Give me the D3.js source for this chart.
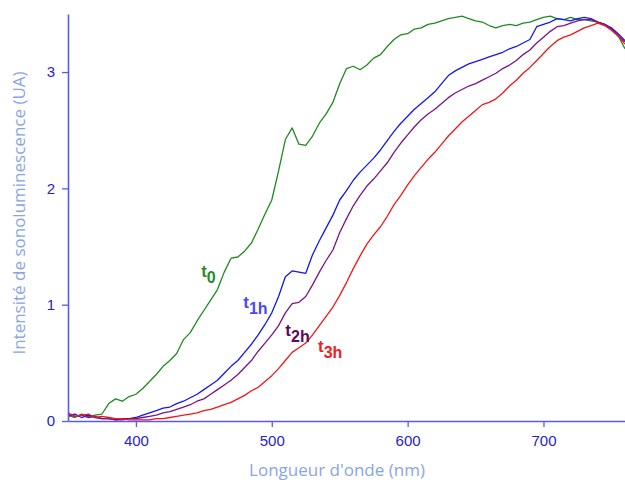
<!DOCTYPE html>
<html><head><meta charset="utf-8">
<script src="https://cdn.jsdelivr.net/npm/d3@7"></script>
<style>body{margin:0;background:#fff}svg{display:block}</style>
</head><body>
<svg id="c" width="625" height="482"></svg>
<script>
const wavelengths = d3.range(350, 761, 5);
const t0 = [0.05,0.03,0.06,0.04,0.05,0.06,0.15,0.19,0.17,0.21,0.23,0.28,0.34,0.40,0.47,0.52,0.58,0.70,0.76,0.86,0.95,1.04,1.13,1.28,1.40,1.41,1.46,1.53,1.65,1.78,1.90,2.15,2.42,2.52,2.38,2.37,2.45,2.56,2.64,2.74,2.90,3.03,3.05,3.02,3.06,3.12,3.15,3.22,3.28,3.32,3.33,3.37,3.38,3.41,3.42,3.44,3.46,3.47,3.48,3.46,3.44,3.43,3.40,3.38,3.40,3.41,3.40,3.42,3.43,3.45,3.47,3.48,3.46,3.45,3.47,3.45,3.45,3.44,3.43,3.41,3.37,3.31,3.20];
const t1h = [0.04,0.06,0.03,0.05,0.03,0.02,0.02,0.01,0.02,0.02,0.03,0.05,0.07,0.09,0.11,0.12,0.15,0.17,0.20,0.23,0.27,0.31,0.35,0.41,0.47,0.52,0.59,0.66,0.74,0.83,0.93,1.07,1.24,1.29,1.28,1.27,1.43,1.55,1.66,1.77,1.90,1.98,2.07,2.14,2.20,2.26,2.33,2.41,2.49,2.56,2.62,2.68,2.73,2.78,2.83,2.90,2.97,3.01,3.04,3.07,3.09,3.11,3.13,3.15,3.17,3.20,3.22,3.25,3.28,3.39,3.41,3.43,3.46,3.45,3.44,3.46,3.47,3.46,3.43,3.41,3.38,3.33,3.27];
const t2h = [0.06,0.04,0.05,0.03,0.04,0.02,0.02,0.01,0.01,0.02,0.02,0.03,0.04,0.05,0.07,0.08,0.10,0.12,0.14,0.17,0.19,0.23,0.27,0.31,0.35,0.40,0.46,0.52,0.60,0.67,0.74,0.82,0.93,1.01,1.02,1.07,1.17,1.28,1.38,1.47,1.62,1.74,1.85,1.94,2.02,2.08,2.15,2.22,2.31,2.39,2.46,2.53,2.59,2.64,2.68,2.73,2.78,2.82,2.85,2.88,2.90,2.93,2.96,2.99,3.03,3.06,3.10,3.15,3.19,3.25,3.30,3.35,3.39,3.40,3.42,3.44,3.45,3.45,3.43,3.41,3.37,3.31,3.26];
const t3h = [0.07,0.04,0.05,0.06,0.03,0.04,0.03,0.02,0.02,0.01,0.01,0.01,0.01,0.02,0.02,0.03,0.04,0.05,0.06,0.07,0.09,0.10,0.12,0.14,0.16,0.19,0.22,0.26,0.29,0.34,0.39,0.45,0.52,0.59,0.63,0.67,0.74,0.82,0.90,0.98,1.08,1.19,1.31,1.42,1.52,1.60,1.67,1.76,1.86,1.94,2.03,2.11,2.18,2.25,2.31,2.38,2.45,2.51,2.57,2.62,2.67,2.72,2.74,2.77,2.82,2.88,2.93,2.99,3.04,3.10,3.16,3.22,3.27,3.30,3.32,3.35,3.38,3.40,3.42,3.40,3.36,3.31,3.24];
const xTicks = [400, 500, 600, 700];
const yTicks = [0, 1, 2, 3];
const seriesNames = ["t0", "t1h", "t2h", "t3h"];
const seriesMain = ["t", "t", "t", "t"];
const seriesSub = ["0", "1h", "2h", "3h"];
const seriesValues = [t0, t1h, t2h, t3h];
const seriesColors = ["#1f8a1f", "#1515f5", "#7a1585", "#f51515"];
const labelColors = ["#2a8a2a", "#4a4af0", "#5a0a5a", "#ee2020"];
const labelPos = [[448, 1.24], [479, 0.97], [510, 0.73], [534, 0.59]];

const svg = d3.select("#c");
const x = d3.scaleLinear().domain([350, 760]).range([68, 625]);
const y = d3.scaleLinear().domain([0, 3.5]).range([421, 13.9]);
const axisCol = "#5a5af0";
const tickCol = "#2424d0";

const line = d3.line().x(d => x(d[0])).y(d => y(d[1]));
seriesValues.forEach((vals, i) => {
  svg.append("path")
    .datum(wavelengths.map((w, j) => [w, vals[j]]))
    .attr("d", line)
    .attr("fill", "none")
    .attr("stroke", seriesColors[i])
    .attr("stroke-width", 1.3)
    .attr("stroke-linejoin", "round");
});

const xAxis = svg.append("g").attr("transform", "translate(0,421)")
  .call(d3.axisBottom(x).tickValues(xTicks).tickFormat(d3.format("d")).tickSize(6).tickSizeOuter(0).tickPadding(8));
const yAxis = svg.append("g").attr("transform", "translate(68,0)")
  .call(d3.axisLeft(y).tickValues(yTicks).tickFormat(d3.format("d")).tickSize(6).tickSizeOuter(0).tickPadding(7));
[xAxis, yAxis].forEach(g => {
  g.select(".domain").attr("stroke", axisCol).attr("stroke-width", 1.6);
  g.selectAll(".tick line").attr("stroke", axisCol).attr("stroke-width", 1.3);
  g.selectAll(".tick text").attr("fill", tickCol)
    .attr("font-family", "Liberation Sans, Arial, sans-serif").attr("font-size", 15);
});

svg.append("text").attr("x", 337).attr("y", 476).attr("text-anchor", "middle")
  .attr("fill", "#8aa4ea").attr("font-family", "Open Sans, sans-serif").attr("font-size", 17)
  .text("Longueur d'onde (nm)");
svg.append("text").attr("transform", "translate(25,213) rotate(-90)").attr("text-anchor", "middle")
  .attr("fill", "#8aa4ea").attr("font-family", "Open Sans, sans-serif").attr("font-size", 17)
  .text("Intensité de sonoluminescence (UA)");

seriesNames.forEach((n, i) => {
  const t = svg.append("text")
    .attr("x", x(labelPos[i][0])).attr("y", y(labelPos[i][1]))
    .attr("fill", labelColors[i]).attr("font-family", "Liberation Sans, Arial, sans-serif")
    .attr("font-weight", "bold").attr("font-size", 17);
  t.append("tspan").text(seriesMain[i]);
  t.append("tspan").attr("dy", 6).attr("font-size", 16).text(seriesSub[i]);
});
</script>
</body></html>
